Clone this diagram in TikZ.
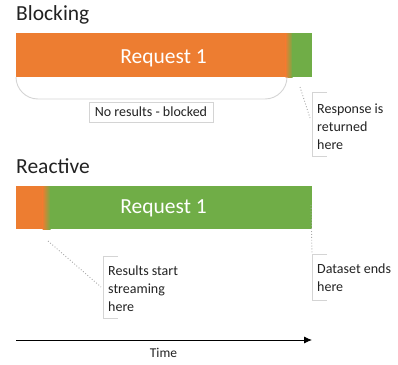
\documentclass[tikz,border=0pt]{standalone}
\usepackage{fontspec}
\setmainfont{Carlito}
\usetikzlibrary{arrows.meta}
\definecolor{org}{HTML}{ED7D31}
\definecolor{grn}{HTML}{70AD47}
\definecolor{lgray}{HTML}{D4D4D4}
\definecolor{dgray}{HTML}{A8A8A8}
\definecolor{txt}{HTML}{222222}
\begin{document}
\begin{tikzpicture}[x=1pt,y=-1pt,
  title/.style={anchor=base west,inner sep=0,text=txt,font=\fontsize{21.5}{24}\selectfont},
  bartext/.style={anchor=base,inner sep=0,text=white,font=\fontsize{21.5}{24}\selectfont},
  lbl/.style={anchor=base west,inner sep=0,align=left,text=txt,font=\fontsize{14}{18}\selectfont},
  brk/.style={draw=none,inner sep=0,anchor=north west,minimum width=15pt},
  brkline/.style={draw=lgray,line width=0.8pt},
  dotline/.style={draw=dgray,line width=0.9pt,dotted},
]
\useasboundingbox (0,0) rectangle (398,364);
% Blocking
\node[title] (tb) at (16,20) {Blocking};
\fill[org] (16,33) rectangle (286,77);
\shade[left color=org,right color=grn] (285.5,33) rectangle (292.5,77);
\fill[grn] (292,33) rectangle (312,77);
\node[bartext] (r1) at (163.5,63) {Request 1};
\draw[lgray,line width=0.9pt,rounded corners=22pt] (16,77) -- (16,99) -- (287,99) -- (287,77);
\node[draw=lgray,fill=white,text=txt,inner xsep=6pt,inner ysep=0pt,minimum height=20pt,font=\fontsize{14}{16}\selectfont] (nr) at (151,112) {No results - blocked};
% Response bracket
\node[brk,minimum height=64pt] (rb) at (312,92) {};
\draw[brkline] ([xshift=15pt]rb.north west) -- (rb.north west) -- (rb.south west) -- ([xshift=15pt]rb.south west);
\node[lbl] (rt) at (317,149) {Response is\\returned\\here};
\coordinate (d1a) at (300,87);
\coordinate (d1b) at (310,118);
\draw[dotline] (d1a) -- (d1b);
% Reactive
\node[title] (tr) at (16,173) {Reactive};
\fill[org] (16,186) rectangle (43,229);
\shade[left color=org,right color=grn] (42.5,186) rectangle (50.5,229);
\fill[grn] (50,186) rectangle (312,229);
\node[bartext] (r2) at (163.5,213) {Request 1};
% Results start streaming
\node[brk,minimum height=62pt] (sb) at (103,256) {};
\draw[brkline] ([xshift=15pt]sb.north west) -- (sb.north west) -- (sb.south west) -- ([xshift=15pt]sb.south west);
\node[lbl] (st) at (108,311) {Results start\\streaming\\here};
\coordinate (d2a) at (48,241);
\coordinate (d2b) at (101,287);
\draw[dotline] (d2a) -- (d2b);
% Dataset ends
\node[brk,minimum height=46pt] (db) at (312,254) {};
\draw[brkline] ([xshift=15pt]db.north west) -- (db.north west) -- (db.south west) -- ([xshift=15pt]db.south west);
\node[lbl] (dt) at (317,291) {Dataset ends\\here};
\coordinate (d3a) at (311,205);
\draw[dotline] (d3a) -- (db.north west);
% Time axis
\coordinate (ta) at (16,340);
\coordinate (tb2) at (312,340);
\draw[line width=0.8pt,-{Latex[length=8pt,width=7pt]}] (ta) -- (tb2);
\node[anchor=base,inner sep=0,text=txt,font=\fontsize{13.5}{16}\selectfont] (tt) at (163.5,357) {Time};
\end{tikzpicture}
\end{document}
